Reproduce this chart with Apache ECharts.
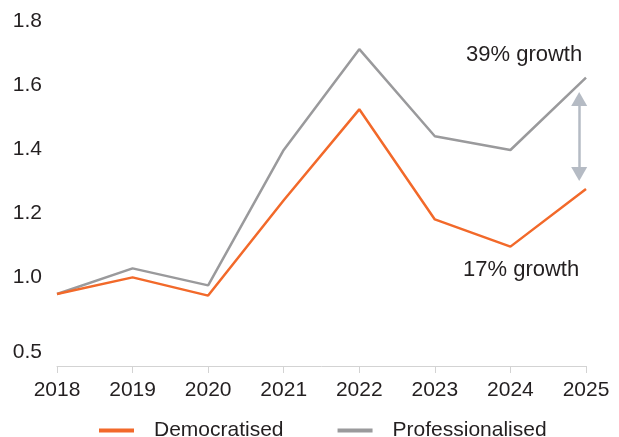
<!DOCTYPE html>
<html>
<head>
<meta charset="utf-8">
<script src="https://cdn.jsdelivr.net/npm/echarts@6/dist/echarts.min.js"></script>
<style>
  html, body { margin: 0; padding: 0; background: #fff; }
  #chart { width: 619px; height: 437px; }
</style>
</head>
<body>
<div id="chart"></div>
<script>
// Index values by year
const years = [2018, 2019, 2020, 2021, 2022, 2023, 2024, 2025];
const democratised = [0.947, 0.999, 0.942, 1.24, 1.524, 1.18, 1.095, 1.275];
const professionalised = [0.947, 1.027, 0.974, 1.397, 1.712, 1.44, 1.397, 1.623];

// The value axis is broken below 1.0: the lowest tick stands for 0.5
const yTickValues = [0.766, 1.0, 1.2, 1.4, 1.6, 1.8];
const yTickLabels = ['0.5', '1.0', '1.2', '1.4', '1.6', '1.8'];

// Gap arrow between the two 2025 values
const gapArrowYear = 2024.91;
const gapArrowFrom = 1.556;
const gapArrowTo = 1.322;

const seriesNames = ['Democratised', 'Professionalised'];
const growthNotes = ['39% growth', '17% growth'];

const FONT = '"Liberation Sans", Arial, Helvetica, sans-serif';
const TEXT = '#231f20';
const ORANGE = '#f2692a';
const GREY = '#9a9a9c';

const pairs = (vals) => years.map((y, i) => [y, vals[i]]);

const chart = echarts.init(document.getElementById('chart'), null, { renderer: 'canvas' });
chart.setOption({
  animation: false,
  textStyle: { fontFamily: FONT },
  grid: { left: 57, right: 33, top: 21, bottom: 71, containLabel: false },
  xAxis: {
    type: 'value',
    min: years[0],
    max: years[years.length - 1],
    interval: 1,
    axisLine: { show: true, lineStyle: { color: '#d3d3d3', width: 1 } },
    axisTick: { show: true, length: 7, lineStyle: { color: '#d3d3d3' } },
    splitLine: { show: false },
    axisLabel: {
      color: TEXT, fontSize: 21, fontFamily: FONT, margin: 14,
      formatter: (v) => String(v)
    }
  },
  yAxis: {
    type: 'value',
    min: 0.722,
    max: 1.8,
    axisLine: { show: false },
    axisTick: { show: false },
    splitLine: { show: false },
    axisLabel: {
      color: TEXT, fontSize: 21, fontFamily: FONT, margin: 15,
      customValues: yTickValues,
      formatter: (v) => {
        const i = yTickValues.findIndex((t) => Math.abs(t - v) < 1e-6);
        return i >= 0 ? yTickLabels[i] : '';
      }
    }
  },
  legend: {
    top: 420,
    left: 99,
    padding: 0,
    itemWidth: 35,
    itemHeight: 4,
    itemGap: 54,
    textStyle: { color: TEXT, fontSize: 21, fontFamily: FONT, padding: [0, 0, 0, 15] },
    data: seriesNames.map((n) => ({ name: n, icon: 'rect' }))
  },
  series: [
    {
      name: seriesNames[0],
      type: 'line',
      data: pairs(democratised),
      showSymbol: false,
      symbol: 'none',
      lineStyle: { color: ORANGE, width: 2.5 },
      itemStyle: { color: ORANGE },
      z: 3
    },
    {
      name: seriesNames[1],
      type: 'line',
      data: pairs(professionalised),
      showSymbol: false,
      symbol: 'none',
      lineStyle: { color: GREY, width: 2.5 },
      itemStyle: { color: GREY },
      z: 2,
      markLine: {
        silent: true,
        symbol: ['triangle', 'triangle'],
        symbolSize: [16, 14],
        label: { show: false },
        lineStyle: { color: '#b5bbc4', width: 2.5, type: 'solid' },
        data: [[
          { coord: [gapArrowYear, gapArrowFrom] },
          { coord: [gapArrowYear, gapArrowTo] }
        ]]
      }
    }
  ],
  graphic: [
    {
      type: 'text', x: 466, y: 55,
      style: { text: growthNotes[0], fill: TEXT, font: '22px ' + FONT, textVerticalAlign: 'middle' }
    },
    {
      type: 'text', x: 463, y: 270,
      style: { text: growthNotes[1], fill: TEXT, font: '22px ' + FONT, textVerticalAlign: 'middle' }
    }
  ]
});
</script>
</body>
</html>
